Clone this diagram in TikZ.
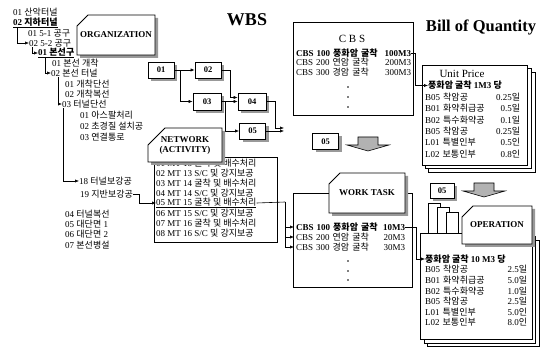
\documentclass[tikz,border=0pt]{standalone}
\usepackage{fontspec}
\setmainfont{Liberation Serif}
\newfontfamily\kr{Noto Sans CJK KR}
\usetikzlibrary{positioning,arrows.meta,shapes.misc,shadows}
\newcommand{\ko}[1]{{\kr #1}}
\newcommand{\listfont}{\fontsize{9}{10}\selectfont}

\tikzset{
  wire/.style={line width=0.6pt},
  tip/.style={wire,-{Latex[length=4pt,width=3.2pt]}},
  halftone/.style={drop shadow={shadow xshift=3pt,shadow yshift=-3pt,fill=black!40,opacity=1}},
  card/.style={chamfered rectangle,chamfered rectangle corners=north west,
    chamfered rectangle xsep=13pt,chamfered rectangle ysep=8pt,
    draw,line width=0.8pt,fill=white,inner sep=0pt,align=center,
    font=\bfseries\fontsize{9}{10}\selectfont,halftone},
  actbox/.style={draw,line width=0.7pt,fill=white,minimum width=26pt,
    minimum height=16pt,inner sep=0pt,font=\bfseries\fontsize{8.5}{9}\selectfont,halftone},
  sheet/.style={draw,line width=0.6pt,fill=white},
  entry/.style={anchor=west,inner sep=0pt,font=\listfont},
  qty/.style={entry,text width=#1},
  pics/dnArrow/.style={code={
    \draw[wire,fill=black!30] (-10,0) -- (10,0) -- (10,8) -- (21,8) -- (0,14)
      -- (-21,8) -- (-10,8) -- cycle;}},
}

\begin{document}
\begin{tikzpicture}[x=1pt,y=-1pt]
\useasboundingbox (0,0) rectangle (546,347);

% titles
\node[font=\bfseries\fontsize{18}{20}\selectfont] (wbsTitle) at (247,20) {WBS};
\node[font=\bfseries\fontsize{16.5}{20}\selectfont] (boqTitle) at (481,27) {Bill of Quantity};

% WBS tree
\foreach \n/\x/\y/\t in {
  wbs1/13/12/01 \ko{산악터널},
  wbs3/28/33/01 5-1 \ko{공구},
  wbs4/29/43/02 5-2 \ko{공구},
  wbs6/52/63/01 \ko{본선 개착},
  wbs7/51/73/02 \ko{본선 터널},
  wbs8/65/84/01 \ko{개착단선},
  wbs9/65/94/02 \ko{개착복선},
  wbs10/62/104/03 \ko{터널단선},
  wbs11/80/115/01 \ko{아스팔처리},
  wbs12/80/126/02 \ko{초경질 설치공},
  wbs13/80/137/03 \ko{연결통로},
  wbs14/79/181/18 \ko{터널보강공},
  wbs15/80/194/19 \ko{지반보강공},
  wbs16/65/214/04 \ko{터널복선},
  wbs17/65/224/05 \ko{대단면} 1,
  wbs18/65/234/06 \ko{대단면} 2,
  wbs19/65/245/07 \ko{본선병설}}
  \node[entry] (\n) at (\x,\y) {\t};
\node[entry,font=\listfont\bfseries] (wbs2) at (13,23) {\underline{02 \ko{지하터널}}};
\node[entry,font=\listfont\bfseries] (wbs5) at (38,53) {\underline{01 \ko{본선구}}};

\draw[tip] ([xshift=4pt]wbs2.south west) |- (wbs4.west);
\draw[tip] ([xshift=3pt]wbs4.south west) |- (wbs5.west);
\draw[tip] ([xshift=7pt]wbs5.south west) |- (wbs7.west);
\draw[tip] ([xshift=7pt]wbs7.south west) |- (wbs10.west);
\draw[tip] ([xshift=1pt]wbs10.south west) |- (wbs14.west);

\node[card,minimum width=78pt,minimum height=40pt] (orgCard) at (116,35) {ORGANIZATION};

% activity network
\node[actbox] (act01) at (161,70) {01};
\node[actbox] (act02) at (208,70) {02};
\node[actbox,minimum width=28pt,minimum height=17pt] (act03) at (207,101.5) {03};
\node[actbox,minimum width=28pt,minimum height=17pt] (act04) at (252,101.5) {04};
\node[actbox] (act05) at (252.5,131) {05};
\coordinate (actEnd) at (284,128);
\draw[tip] (act01) -- (act02);
\draw[tip] (act01.east) -- ++(6,0) |- (act03.west);
\draw[tip] (act02.east) -- ++(9,0) |- ([yshift=4pt]act04.west);
\draw[tip] (act03.east) -- (act04.west);
\draw[tip] (act03.east) -- ++(4,0) |- (act05.west);
\draw[tip] (act04.east) -- ++(9,0) |- (actEnd);
\draw[tip] (act05.east) -- (act05.east -| actEnd);

% network list
\draw[sheet] (154,157) rectangle (277,242);
\foreach \t [count=\i] in {
  01 MT 13 \ko{굴착 및 배수처리},
  02 MT 13 S/C \ko{및 강지보공},
  03 MT 14 \ko{굴착 및 배수처리},
  04 MT 14 S/C \ko{및 강지보공},
  {\underline{05 MT 15 \ko{굴착 및 배수처리}}},
  06 MT 15 S/C \ko{및 강지보공},
  07 MT 16 \ko{굴착 및 배수처리},
  08 MT 16 S/C \ko{및 강지보공}}
  \node[entry] (net\i) at (156,{153+10*\i}) {\t};
\node[card,minimum width=74pt,minimum height=34pt] (netCard) at (185,145) {NETWORK\\(ACTIVITY)};
\draw[tip] (wbs15.east) -- ++(6,0) |- (net5.west);

% CBS
\draw[sheet] (293,22) rectangle (413,115);
\node[font=\fontsize{11}{12}\selectfont] (cbsTitle) at (352,39) {C B S};
\node[qty=115pt,font=\listfont\bfseries] (cbs1) at (296,53) {CBS 100 \ko{풍화암 굴착}\hfill 100M3};
\node[qty=115pt] (cbs2) at (296,62.5) {CBS 200 \ko{연암 굴착}\hfill 200M3};
\node[qty=115pt] (cbs3) at (296,72) {CBS 300 \ko{경암 굴착}\hfill 300M3};
\foreach \y in {87,97,107} \fill (348,\y) circle (0.8pt);

% unit price
\draw[sheet] (428,72) rectangle (535,172);
\draw[sheet] (425,68) rectangle (531,168);
\draw[sheet] (422,65) rectangle (527,165);
\node[font=\fontsize{11}{12}\selectfont] (unitTitle) at (462,74) {Unit Price};
\node[entry,font=\listfont\bfseries] (unit0) at (428,85.5) {\ko{풍화암 굴착} 1M3 \ko{당}};
\foreach \t/\v [count=\i] in {
  B05 \ko{착암공}/0.25\ko{일},
  B01 \ko{화약취급공}/0.5\ko{일},
  B02 \ko{특수화약공}/0.1\ko{일},
  B05 \ko{착암공}/0.25\ko{일},
  L01 \ko{특별인부}/0.5\ko{인},
  L02 \ko{보통인부}/0.8\ko{인}}
  \node[qty=95pt] (unit\i) at (425,{86+11.3*\i}) {\t\hfill\v};
\draw[tip] (cbs1.east) -- ++(4,0) |- (unit0.west);

% work task
\node[actbox] (stepTask) at (325.5,141.5) {05};
\pic at (368,137) {dnArrow};
\draw[sheet] (293,193) rectangle (412,287);
\node[qty=109pt,font=\listfont\bfseries] (task1) at (296,227) {CBS 100 \ko{풍화암 굴착}\hfill 10M3};
\node[qty=109pt] (task2) at (296,237) {CBS 200 \ko{연암 굴착}\hfill 20M3};
\node[qty=109pt] (task3) at (296,247) {CBS 300 \ko{경암 굴착}\hfill 30M3};
\foreach \y in {261,271,280} \fill (348,\y) circle (0.8pt);
\node[card,minimum width=76pt,minimum height=40pt] (taskCard) at (367,193) {WORK TASK};
\coordinate (netJoin) at (285,202);
\draw[wire] (net5.east) -- (netJoin);
\foreach \k in {1,2,3} \draw[tip] (netJoin) |- ([xshift=-2pt]task\k.west);

% operation
\node[actbox,minimum width=24pt,minimum height=15pt] (stepOper) at (442,190.5) {05};
\pic at (484,183) {dnArrow};
\draw[sheet] (428,203) rectangle (440,233);
\draw[sheet] (437,207) rectangle (449,233);
\draw[sheet] (446,212) rectangle (458,233);
\draw[sheet] (427,240) rectangle (539,346);
\draw[sheet] (424,236.5) rectangle (535.5,343);
\draw[sheet] (420,233) rectangle (532,339.5);
\node[entry,font=\listfont\bfseries] (oper0) at (425,259) {\ko{풍화암 굴착} 10 M3 \ko{당}};
\foreach \t/\v [count=\i] in {
  B05 \ko{착암공}/2.5\ko{일},
  B01 \ko{화약취급공}/5.0\ko{일},
  B02 \ko{특수화약공}/1.0\ko{일},
  B05 \ko{착암공}/2.5\ko{일},
  L01 \ko{특별인부}/5.0\ko{인},
  L02 \ko{보통인부}/8.0\ko{인}}
  \node[qty=102pt] (oper\i) at (425,{259+10.6*\i}) {\t\hfill\v};
\node[card,minimum width=70pt,minimum height=38pt] (opCard) at (497,225) {OPERATION};
\draw[tip] (task1.east) -- ++(11,0) |- (oper0.west);
\end{tikzpicture}
\end{document}
